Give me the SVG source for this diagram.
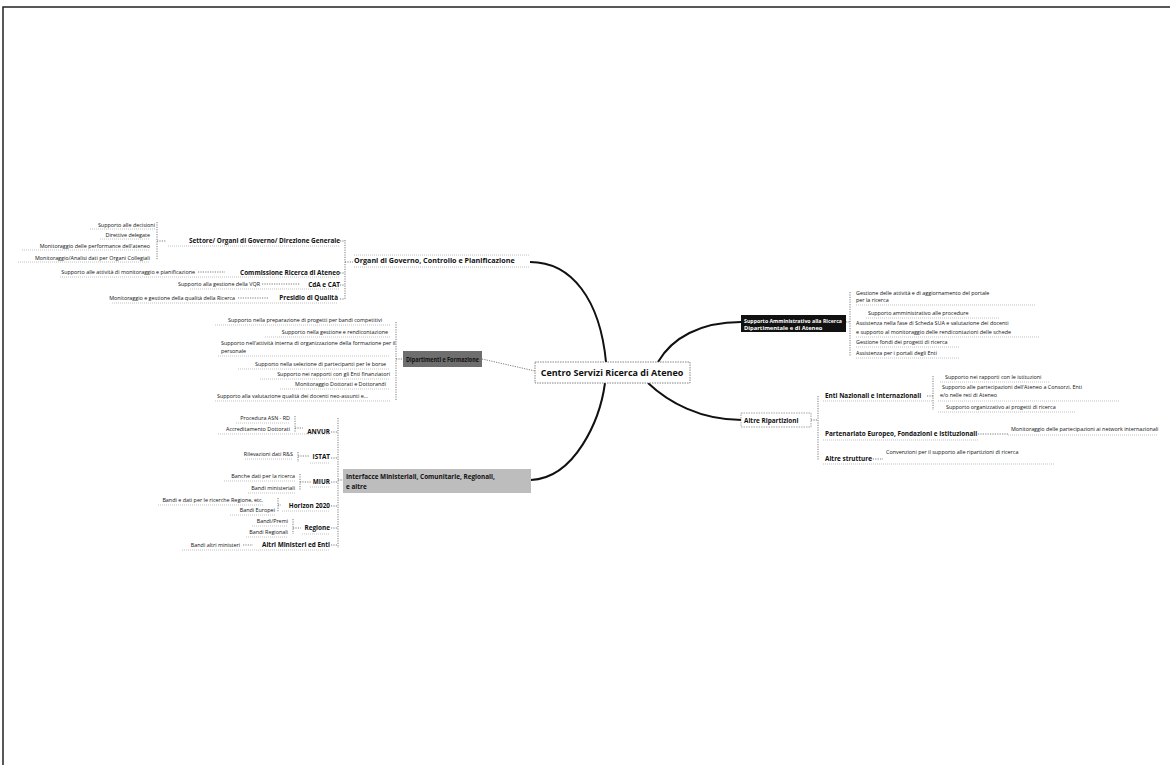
<svg xmlns="http://www.w3.org/2000/svg" width="1170" height="765" viewBox="0 0 1170 765">
<style>
text{font-family:"Open Sans","Liberation Sans",sans-serif;fill:#111}
.c{font-size:9px;font-weight:bold}
.m{font-size:7.2px;font-weight:bold}
.s{font-size:6.4px;font-weight:bold}
.l{font-size:5.4px}
.e{text-anchor:end}
.u{stroke:#999;stroke-width:0.6;stroke-dasharray:1 1;fill:none}
.b{stroke:#444;stroke-width:0.7;stroke-dasharray:1.2 1.2;fill:none}
.k{stroke:#111;stroke-width:2;fill:none}
</style>
<rect width="1170" height="765" fill="#fff"/>
<path d="M3,765 V7 H1170" stroke="#222" stroke-width="1.5" fill="none"/>

<g id="connectors">
<path class="k" d="M530,262 C572,262 600,300 606,362"/>
<path class="k" d="M531,480 C575,478 600,420 605,383"/>
<path class="k" d="M658,362 C672,338 700,322 741,322"/>
<path class="k" d="M648,383 C668,402 700,420 742,420"/>
<path class="b" d="M482,359 L535,371"/>
<path class="b" d="M345,240 V300 M345,262 H353 M340,241 H345 M340,273 H345 M340,285 H345 M340,299 H345"/>
<path class="b" d="M157,222 V260 M157,241 H166"/>
<path class="b" d="M198,272 H225 M262,284 H300 M238,298 H268"/>
<path class="b" d="M396,322 V400 M396,359 H403"/>
<path class="b" d="M338,418 V548 M338,480 H343 M331,432 H338 M331,458 H338 M331,482 H338 M331,506 H338 M331,528 H338 M331,545 H338"/>
<path class="b" d="M295,416 V432 M295,428 H303 M298,452 V462 M298,456 H310 M300,474 V490 M300,482 H311 M278,498 V512 M278,505 H281 M293,519 V534 M293,528 H301 M243,545 H253"/>
<path class="b" d="M850,292 V356 M846,322 H850"/>
<path class="b" d="M818,396 V460 M811,420 H818"/>
<path class="b" d="M933,376 V410 M927,396 H933 M978,434 H1008 M868,459 H883"/>
</g>

<g id="central">
<rect x="535" y="362" width="155" height="21" fill="#fff" stroke="#666" stroke-width="0.8" stroke-dasharray="1.5 1"/>
<text class="c" x="612" y="376" text-anchor="middle">Centro Servizi Ricerca di Ateneo</text>
</g>

<g id="n-organi">
<text class="m" x="354" y="263">Organi di Governo, Controllo e Pianificazione</text>
<path class="u" d="M354,267 H530 M354,255 H530"/>
</g>
<g id="n-settore">
<text class="s e" x="340" y="243">Settore/ Organi di Governo/ Direzione Generale</text>
<path class="u" d="M168,246 H340"/>
<text class="l e" x="155" y="227">Supporto alle decisioni</text>
<text class="l e" x="150" y="237">Direttive delegate</text>
<text class="l e" x="150" y="248">Monitoraggio delle performance dell'ateneo</text>
<text class="l e" x="150" y="260">Monitoraggio/Analisi dati per Organi Collegiali</text>
<path class="u" d="M90,229 H155 M100,239 H150 M22,250 H150 M18,262 H150"/>
</g>
<g id="n-commissione">
<text class="s e" x="340" y="275">Commissione Ricerca di Ateneo</text>
<text class="l e" x="195" y="274">Supporto alle attività di monitoraggio e pianificazione</text>
<path class="u" d="M60,277 H340"/>
</g>
<g id="n-cda">
<text class="s e" x="340" y="287">CdA e CAT</text>
<text class="l e" x="260" y="286">Supporto alla gestione della VQR</text>
<path class="u" d="M190,289 H340"/>
</g>
<g id="n-presidio">
<text class="s e" x="338" y="300">Presidio di Qualità</text>
<text class="l e" x="235" y="300">Monitoraggio e gestione della qualità della Ricerca</text>
<path class="u" d="M112,303 H338"/>
</g>

<g id="n-dipartimenti">
<rect x="403" y="351" width="79" height="16" fill="#6e6e6e"/>
<text class="s" x="406" y="361.5" fill="#000" textLength="73" lengthAdjust="spacingAndGlyphs">Dipartimenti e Formazione</text>
<text class="l e" x="382" y="322">Supporto nella preparazione di progetti per bandi competitivi</text>
<text class="l e" x="388" y="334">Supporto nella gestione e rendicontazione</text>
<text class="l" x="221" y="345">Supporto nell'attività interna di organizzazione della formazione per il</text>
<text class="l" x="221" y="353">personale</text>
<text class="l e" x="386" y="366">Supporto nella selezione di partecipanti per le borse</text>
<text class="l e" x="390" y="376">Supporto nei rapporti con gli Enti finanziatori</text>
<text class="l e" x="386" y="386">Monitoraggio Dottorati e Dottorandi</text>
<text class="l" x="217" y="398">Supporto alla valutazione qualità dei docenti neo-assunti e...</text>
<path class="u" d="M215,325 H390 M265,337 H390 M218,356 H390 M238,369 H390 M260,379 H390 M280,389 H390 M215,401 H390"/>
</g>

<g id="n-interfacce">
<rect x="343" y="469" width="188" height="24" fill="#bdbdbd"/>
<text class="s" x="346" y="479">Interfacce Ministeriali, Comunitarie, Regionali,</text>
<text class="s" x="346" y="489">e altre</text>
</g>
<g id="n-anvur">
<text class="s e" x="330" y="434">ANVUR</text>
<text class="l e" x="290" y="420">Procedura ASN - RD</text>
<text class="l e" x="290" y="431">Accreditamento Dottorati</text>
<path class="u" d="M236,423 H290 M218,434 H330"/>
</g>
<g id="n-istat">
<text class="s e" x="330" y="459">ISTAT</text>
<text class="l e" x="293" y="456">Rilevazioni dati R&amp;S</text>
<path class="u" d="M245,459 H293 M310,463 H330"/>
</g>
<g id="n-miur">
<text class="s e" x="330" y="484">MIUR</text>
<text class="l e" x="295" y="478">Banche dati per la ricerca</text>
<text class="l e" x="295" y="490">Bandi ministeriali</text>
<path class="u" d="M224,481 H295 M248,493 H295 M310,487 H330"/>
</g>
<g id="n-horizon">
<text class="s e" x="330" y="508">Horizon 2020</text>
<text class="l e" x="263" y="502">Bandi e dati per le ricerche Regione, etc.</text>
<text class="l e" x="275" y="512">Bandi Europei</text>
<path class="u" d="M158,505 H263 M230,515 H275 M282,511 H330"/>
</g>
<g id="n-regione">
<text class="s e" x="330" y="530">Regione</text>
<text class="l e" x="288" y="523">Bandi/Premi</text>
<text class="l e" x="288" y="534">Bandi Regionali</text>
<path class="u" d="M252,526 H288 M246,537 H288 M302,534 H330"/>
</g>
<g id="n-altri">
<text class="s e" x="330" y="547">Altri Ministeri ed Enti</text>
<text class="l e" x="240" y="547">Bandi altri ministeri</text>
<path class="u" d="M182,550 H330"/>
</g>

<g id="n-servizi">
<rect x="741" y="315" width="105" height="17" fill="#111"/>
<text class="s" x="744" y="322.5" style="fill:#fff;font-size:5.8px" textLength="98" lengthAdjust="spacingAndGlyphs">Supporto Amministrativo alla Ricerca</text>
<text class="s" x="744" y="330" style="fill:#fff;font-size:5.8px">Dipartimentale e di Ateneo</text>
<text class="l" x="856" y="295">Gestione delle attività e di aggiornamento del portale</text>
<text class="l" x="856" y="302">per la ricerca</text>
<text class="l" x="868" y="315">Supporto amministrativo alle procedure</text>
<text class="l" x="856" y="325">Assistenza nella fase di Scheda SUA e valutazione dei docenti</text>
<text class="l" x="856" y="334">e supporto al monitoraggio delle rendicontazioni delle schede</text>
<text class="l" x="856" y="344">Gestione fondi dei progetti di ricerca</text>
<text class="l" x="856" y="355">Assistenza per i portali degli Enti</text>
<path class="u" d="M856,305 H1035 M866,318 H1000 M856,337 H1040 M856,347 H960 M856,358 H960"/>
</g>

<g id="n-altre">
<rect x="741" y="413" width="70" height="14" fill="#fff" stroke="#666" stroke-width="0.6" stroke-dasharray="1.5 1"/>
<text class="s" x="744" y="423">Altre Ripartizioni</text>
</g>
<g id="n-enti">
<text class="s" x="825" y="398">Enti Nazionali e Internazionali</text>
<path class="u" d="M823,401 H933"/>
<text class="l" x="945" y="379">Supporto nei rapporti con le istituzioni</text>
<text class="l" x="942" y="389">Supporto alle partecipazioni dell'Ateneo a Consorzi, Enti</text>
<text class="l" x="940" y="397">e/o nelle reti di Ateneo</text>
<text class="l" x="946" y="409">Supporto organizzativo ai progetti di ricerca</text>
<path class="u" d="M940,382 H1050 M938,401 H1120 M938,412 H1075"/>
</g>
<g id="n-partenariato">
<text class="s" x="825" y="436">Partenariato Europeo, Fondazioni e Istituzionali</text>
<path class="u" d="M823,440 H978"/>
<text class="l" x="1011" y="431">Monitoraggio delle partecipazioni ai network internazionali</text>
<path class="u" d="M1008,435 H1158"/>
</g>
<g id="n-strutture">
<text class="s" x="825" y="461">Altre strutture</text>
<path class="u" d="M823,464 H1055"/>
<text class="l" x="886" y="454">Convenzioni per il supporto alle ripartizioni di ricerca</text>
</g>
</svg>
